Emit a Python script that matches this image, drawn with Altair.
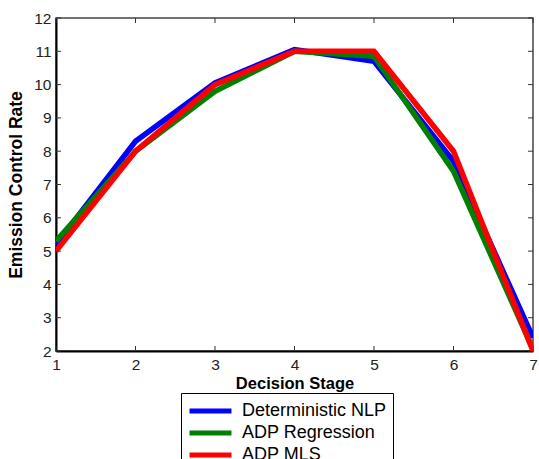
import altair as alt
import pandas as pd

stages = [1, 2, 3, 4, 5, 6, 7]
series_names = ["Deterministic NLP", "ADP Regression", "ADP MLS"]
nlp = [5.2, 8.3, 10.05, 11.05, 10.7, 7.7, 2.4]
adp_reg = [5.3, 8.0, 9.8, 11.0, 10.85, 7.4, 2.05]
adp_mls = [5.0, 8.0, 10.0, 11.0, 11.0, 8.0, 2.0]
colors = ["#0000FF", "#008000", "#FF0000"]
x_ticks = [1, 2, 3, 4, 5, 6, 7]
y_ticks = [2, 3, 4, 5, 6, 7, 8, 9, 10, 11, 12]

rows = []
for name, vals in zip(series_names, [nlp, adp_reg, adp_mls]):
    for s, v in zip(stages, vals):
        rows.append({"stage": s, "rate": v, "series": name})
df = pd.DataFrame(rows)

W, H = 477, 333
FONT = "Liberation Sans"

xscale = alt.Scale(domain=[1, 7], nice=False, zero=False)
yscale = alt.Scale(domain=[2, 12], nice=False, zero=False)
cscale = alt.Scale(domain=series_names, range=colors)

xaxis = alt.Axis(values=x_ticks, title="Decision Stage", tickSize=0, grid=False,
                 domainColor="black", domainWidth=2, labelPadding=6,
                 labelFontSize=15.5, labelColor="#222", labelFont=FONT,
                 titleFont=FONT, titleFontSize=16.5, titleFontWeight="bold",
                 titleColor="black", titlePadding=3, labelFlush=False)
yaxis = alt.Axis(values=y_ticks, title="Emission Control Rate", tickSize=0, grid=False,
                 domainColor="black", domainWidth=2, labelPadding=5,
                 labelFontSize=15.5, labelColor="#222", labelFont=FONT,
                 titleFont=FONT, titleFontSize=17.5, titleFontWeight="bold",
                 titleColor="black", titlePadding=8)

legend = alt.Legend(title=None, orient="none", legendX=125, legendY=375,
                    strokeColor="black", fillColor="white", padding=6,
                    symbolType="M-1,0H3.42", symbolSize=361, symbolStrokeWidth=5,
                    labelFont=FONT, labelFontSize=18, labelColor="black",
                    labelOffset=31, rowPadding=-2, labelLimit=300,
                    labelExpr="datum.label + '\u00a0\u00a0\u00a0'")

xt = pd.DataFrame({"t": x_ticks})
yt = pd.DataFrame({"t": y_ticks})
tick_style = dict(color="#333", strokeWidth=1)
xb = alt.Chart(xt).mark_rule(**tick_style).encode(
    x=alt.X("t:Q", scale=xscale, axis=xaxis), y=alt.value(H), y2=alt.value(H - 5))
xtop = alt.Chart(xt).mark_rule(**tick_style).encode(
    x=alt.X("t:Q", scale=xscale, axis=xaxis), y=alt.value(0), y2=alt.value(5))
yl = alt.Chart(yt).mark_rule(**tick_style).encode(
    y=alt.Y("t:Q", scale=yscale, axis=yaxis), x=alt.value(0), x2=alt.value(5))
yr = alt.Chart(yt).mark_rule(**tick_style).encode(
    y=alt.Y("t:Q", scale=yscale, axis=yaxis), x=alt.value(W), x2=alt.value(W - 5))

layers = []
for name in series_names:
    layers.append(
        alt.Chart(df).transform_filter(alt.datum.series == name)
        .mark_line(strokeWidth=5.5, clip=True).encode(
            x=alt.X("stage:Q", scale=xscale, axis=xaxis),
            y=alt.Y("rate:Q", scale=yscale, axis=yaxis),
            color=alt.Color("series:N", scale=cscale, legend=legend),
        )
    )

chart = alt.layer(xb, xtop, yl, yr, *layers).properties(
    width=W, height=H,
    autosize=alt.AutoSizeParams(type="none"),
    padding={"left": 56, "top": 18, "right": 6, "bottom": 108},
    background="white",
).configure_view(stroke="#444", strokeWidth=1.5)

chart.save("out.html", embed_options={"renderer": "svg", "actions": False})
